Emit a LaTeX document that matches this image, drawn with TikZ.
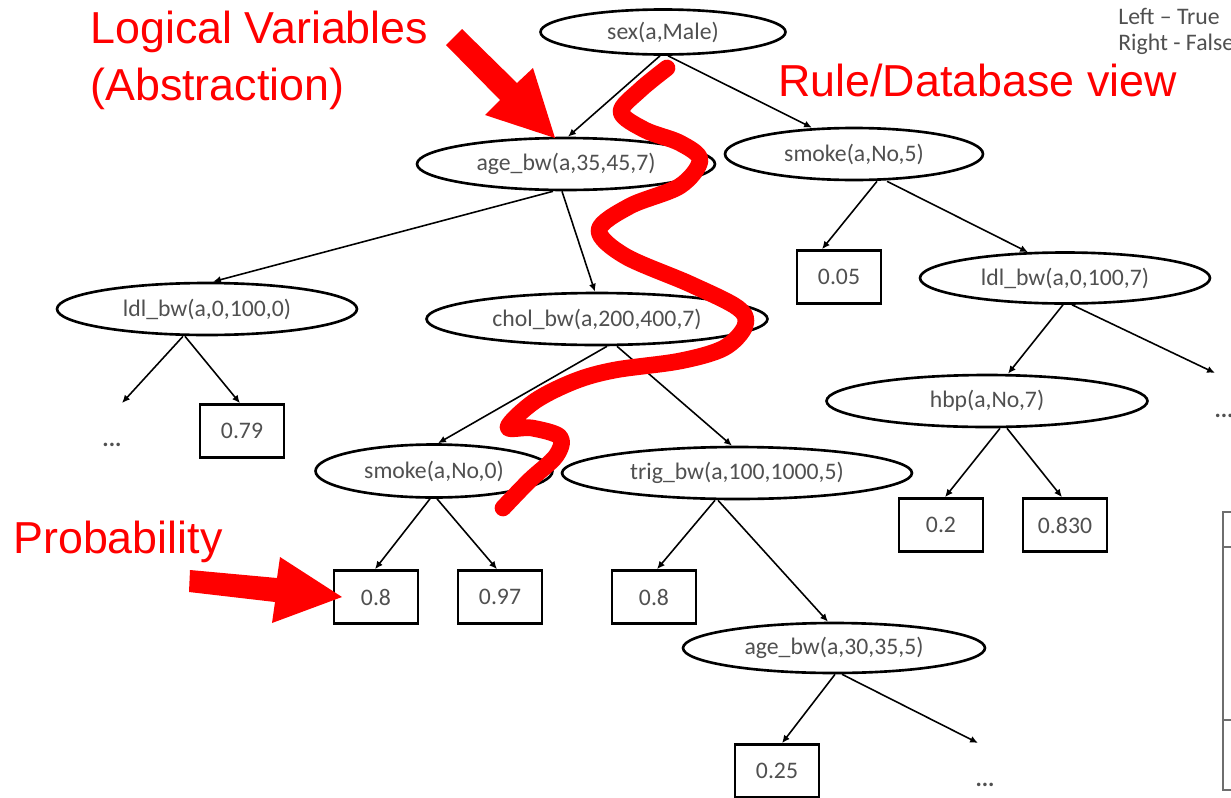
\documentclass[tikz,border=0pt]{standalone}
\usepackage{fontspec}
\usetikzlibrary{shapes.geometric,arrows.meta,calc}
\newfontfamily\carl{Carlito}
\newfontfamily\arialf{Liberation Sans}
\definecolor{txtgray}{RGB}{80,80,80}
\definecolor{tblgray}{RGB}{110,110,110}
\definecolor{annred}{RGB}{255,0,0}
\tikzset{
  ell/.style={ellipse, draw=black, line width=1.5pt, inner sep=0pt, font={\carl\fontsize{13.5}{16}\selectfont}, text=txtgray},
  probbox/.style={rectangle, draw=black, line width=1.5pt, inner sep=0pt, minimum width=1.68cm, minimum height=1.06cm, font={\carl\fontsize{13.5}{16}\selectfont}, text=txtgray},
  dotsnode/.style={inner sep=0pt, font={\carl\bfseries\fontsize{13.5}{16}\selectfont}, text=txtgray},
  conn/.style={draw=black, line width=0.9pt, -{Latex[length=4.5pt,width=4pt]}},
  redlabel/.style={inner sep=0pt, anchor=base west, font={\arialf\fontsize{25.5}{31}\selectfont}, text=annred},
  legend/.style={inner sep=0pt, anchor=base west, font={\carl\fontsize{13.5}{16}\selectfont}, text=txtgray},
  squiggle/.style={draw=annred, line width=9.5pt, line cap=round, line join=round},
  redarrow/.style={fill=annred, draw=none},
  tblline/.style={draw=tblgray, line width=1.2pt}
}
\begin{document}
\begin{tikzpicture}[x=0.02cm,y=-0.02cm]
\useasboundingbox (0,0) rectangle (1231,798);
\fill[white] (0,0) rectangle (1231,798);

% decision nodes
\node[ell, minimum width=4.90cm, minimum height=0.90cm] (sex) at (663,32) {sex(a,Male)};
\node[ell, minimum width=5.96cm, minimum height=1.04cm] (age35) at (566,164) {age\_bw(a,35,45,7)};
\node[ell, minimum width=5.16cm, minimum height=1.04cm] (smoke5) at (854,154) {smoke(a,No,5)};
\node[ell, minimum width=6.00cm, minimum height=1.04cm] (ldl0) at (207,309) {ldl\_bw(a,0,100,0)};
\node[ell, minimum width=6.82cm, minimum height=1.04cm] (chol) at (597,319) {chol\_bw(a,200,400,7)};
\node[ell, minimum width=5.80cm, minimum height=1.02cm] (ldl7) at (1065,278) {ldl\_bw(a,0,100,7)};
\node[ell, minimum width=6.42cm, minimum height=1.04cm] (hbp) at (987,401) {hbp(a,No,7)};
\node[ell, minimum width=4.74cm, minimum height=1.06cm] (smoke0) at (434,471) {smoke(a,No,0)};
\node[ell, minimum width=7.00cm, minimum height=1.04cm] (trig) at (737,473) {trig\_bw(a,100,1000,5)};
\node[ell, minimum width=6.04cm, minimum height=1.00cm] (age30) at (834,648) {age\_bw(a,30,35,5)};

% leaves
\node[probbox] (b005) at (839,277) {0.05};
\node[probbox] (b079) at (242,431) {0.79};
\node[probbox] (b08l) at (376,597) {0.8};
\node[probbox] (b097) at (500,597) {0.97};
\node[probbox] (b08r) at (654,597) {0.8};
\node[probbox] (b02) at (941,525) {0.2};
\node[probbox] (b083) at (1065,525) {0.830};
\node[probbox] (b025) at (777,771) {0.25};

% ellipsis
\node[dotsnode] (dA) at (112,445) {...};
\node[dotsnode] (dB) at (1224,416) {...};
\node[dotsnode] (dC) at (985,785) {...};
\coordinate (eA) at (122,403);
\coordinate (eB) at (1215,373);
\coordinate (eC) at (978,743);

% connectors
\draw[conn] ($(sex.south)+(-3,0)$) -- ($(age35.north)+(2,0)$);
\draw[conn] ($(sex.south)+(5,0)$) -- ($(smoke5.north)+(-42,1)$);
\draw[conn] ($(age35.south)+(-13,0)$) -- ($(ldl0.north)+(6,0)$);
\draw[conn] ($(age35.south)+(-4,0)$) -- ($(chol.north)+(-2,0)$);
\draw[conn] ($(ldl0.south)+(-24,0)$) -- (eA);
\draw[conn] ($(ldl0.south)+(-22,0)$) -- ($(b079.north)+(-2,0)$);
\draw[conn] ($(chol.south)+(10,0)$) -- ($(smoke0.north)+(4,0)$);
\draw[conn] ($(chol.south)+(20,0)$) -- ($(trig.north)+(-5,0)$);
\draw[conn] ($(smoke5.south)+(23,0)$) -- ($(b005.north)+(-17,0)$);
\draw[conn] ($(smoke5.south)+(33,0)$) -- ($(ldl7.north)+(-37,1)$);
\draw[conn] ($(ldl7.south)+(-2,0)$) -- ($(hbp.north)+(21,0)$);
\draw[conn] ($(ldl7.south)+(7,0)$) -- (eB);
\draw[conn] ($(hbp.south)+(13,0)$) -- ($(b02.north)+(4,0)$);
\draw[conn] ($(hbp.south)+(20,0)$) -- ($(b083.north)+(-3,0)$);
\draw[conn] ($(smoke0.south)+(-4,0)$) -- ($(b08l.north)+(-1,0)$);
\draw[conn] ($(smoke0.south)+(3,0)$) -- ($(b097.north)+(-3,0)$);
\draw[conn] ($(trig.south)+(-22,0)$) -- ($(b08r.north)+(3,0)$);
\draw[conn] ($(trig.south)+(-19,0)$) -- ($(age30.north)+(-6,0)$);
\draw[conn] ($(age30.south)+(1,0)$) -- ($(b025.north)+(5,0)$);
\draw[conn] ($(age30.south)+(8,0)$) -- (eC);

% legend
\node[legend] (lt) at (1118,24) {Left – True};
\node[legend] (rf) at (1118,50) {Right - False};

% partial table at right edge
\draw[tblline] (1240,512) -- (1223,512) -- (1223,790) -- (1240,790);
\draw[tblline] (1223,547) -- (1240,547);
\draw[tblline] (1223,720) -- (1240,720);

% red annotations
\node[redlabel] (lv1) at (90,43) {Logical Variables};
\node[redlabel] (lv2) at (90,100) {(Abstraction)};
\node[redlabel] (rdb) at (778,96) {Rule/Database view};
\node[redlabel] (prob) at (13,553) {Probability};

\fill[redarrow] (446,45) -- (500,100) -- (485,115) -- (555,138) -- (533,68) -- (517,83) -- (462,29) -- cycle;
\fill[redarrow] (190,570) -- (277,578) -- (280,557) -- (342,597) -- (272,623) -- (275,602) -- (189,592) -- cycle;

\draw[squiggle] plot[smooth, tension=0.55] coordinates {
 (667,68) (640,90) (621,112) (645,130) (680,143) (700,160) (680,186) (630,206) (599,230)
 (625,256) (690,284) (738,308) (745,326) (724,348) (680,361) (615,370) (575,381)
 (535,401) (508,427) (532,428) (560,437) (556,456) (530,480) (503,508)};
\end{tikzpicture}
\end{document}
